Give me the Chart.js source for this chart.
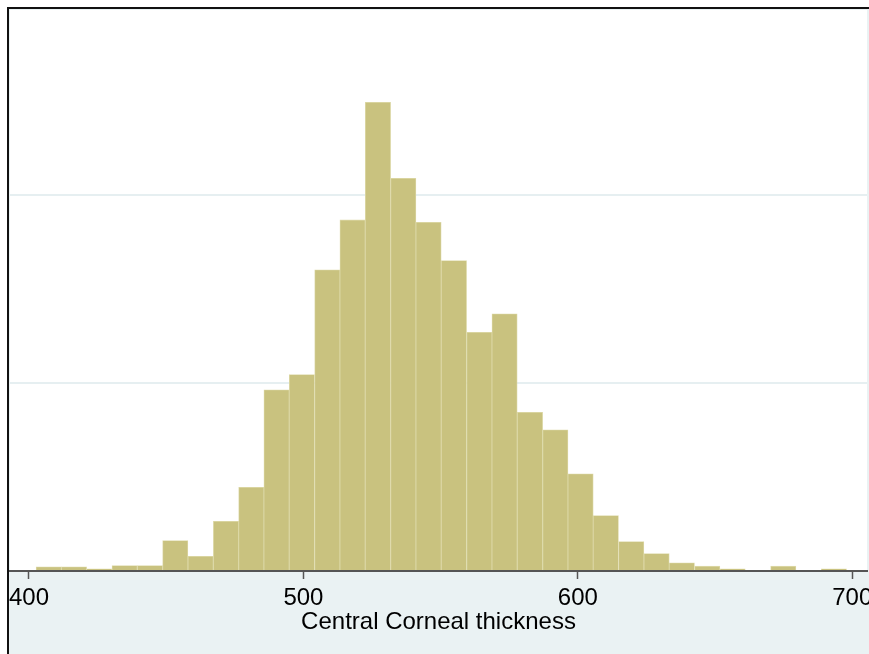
<!DOCTYPE html>
<html><head><meta charset="utf-8">
<script src="https://cdn.jsdelivr.net/npm/chart.js@4.4.1/dist/chart.umd.min.js"></script>
<style>html,body{margin:0;padding:0;background:#fff;overflow:hidden}canvas{display:block}</style>
</head><body>
<canvas id="c" width="869" height="654"></canvas>
<script>
// Histogram bin edges (Central Corneal thickness)
const binEdges = [402.6, 411.8, 421.0, 430.2, 439.5, 448.7, 457.9, 467.2, 476.4, 485.6,
  494.8, 504.1, 513.3, 522.5, 531.8, 541.0, 550.2, 559.5, 568.7, 577.9,
  587.2, 596.4, 605.6, 614.8, 624.1, 633.3, 642.5, 651.8, 661.0, 670.2,
  679.5, 688.7, 697.9];
// Density of each bin
const density = [0.000112, 0.000112, 0.000059, 0.000146, 0.000146, 0.000812, 0.000394, 0.001326, 0.002231, 0.004824,
  0.005232, 0.008019, 0.009350, 0.012481, 0.010458, 0.009287, 0.008267, 0.006358, 0.006848, 0.004228,
  0.003759, 0.002588, 0.001478, 0.000785, 0.000466, 0.000218, 0.000128, 0.000059, 0, 0.000128,
  0, 0.000059];
const xTickValues = [400, 500, 600, 700];
const yGridValues = [0, 0.005, 0.01];
const xTitle = 'Central Corneal thickness';

const points = density.map((d, i) => ({x: (binEdges[i] + binEdges[i + 1]) / 2, y: d}));

const bgPlugin = {
  id: 'bg',
  beforeDraw(chart) {
    const {ctx, width, height, chartArea: a} = chart;
    ctx.save();
    ctx.fillStyle = '#ffffff';
    ctx.fillRect(0, 0, width, height);
    ctx.fillStyle = '#EAF2F3';
    ctx.fillRect(9, 9, width - 9, height - 9);
    ctx.fillStyle = '#ffffff';
    ctx.fillRect(a.left, a.top, a.right - a.left, a.bottom - a.top);
    ctx.fillStyle = '#111111';
    ctx.fillRect(7, 7, width - 7, 2);
    ctx.fillRect(7, 7, 2, height - 7);
    ctx.restore();
  }
};

const FONT = "'Liberation Sans', Arial, sans-serif";

new Chart(document.getElementById('c'), {
  type: 'bar',
  data: {
    datasets: [{
      data: points,
      backgroundColor: 'rgb(201,194,127)',
      borderColor: 'rgb(222,218,170)',
      borderWidth: 0.8,
      barPercentage: 1,
      categoryPercentage: 1,
      grouped: false
    }]
  },
  options: {
    responsive: false,
    animation: false,
    devicePixelRatio: 1,
    layout: {padding: {left: 10, top: 10, right: 2, bottom: 0}},
    plugins: {legend: {display: false}, tooltip: {enabled: false}},
    scales: {
      x: {
        type: 'linear',
        min: 393.08,
        max: 705.36,
        offset: false,
        z: 1,
        afterBuildTicks: s => { s.ticks = xTickValues.map(v => ({value: v})); },
        afterFit: s => { s.height = 83; s.paddingLeft = 0; s.paddingRight = 0; },
        grid: {display: true, offset: false, drawOnChartArea: false, drawTicks: true, tickLength: 8, tickColor: '#555555', tickWidth: 1.5},
        border: {display: true, color: '#555555', width: 2},
        ticks: {autoSkip: false, maxRotation: 0, padding: 5, color: '#000000', font: {family: FONT, size: 24}},
        title: {display: true, text: xTitle, color: '#000000', font: {family: FONT, size: 24}, padding: {top: 0, bottom: 17}}
      },
      y: {
        min: 0,
        max: 0.01494,
        afterBuildTicks: s => { s.ticks = yGridValues.map(v => ({value: v})); },
        grid: {color: '#E6EFF1', lineWidth: 2, drawTicks: false},
        border: {display: false},
        ticks: {display: false}
      }
    }
  },
  plugins: [bgPlugin]
});
</script>
</body></html>
